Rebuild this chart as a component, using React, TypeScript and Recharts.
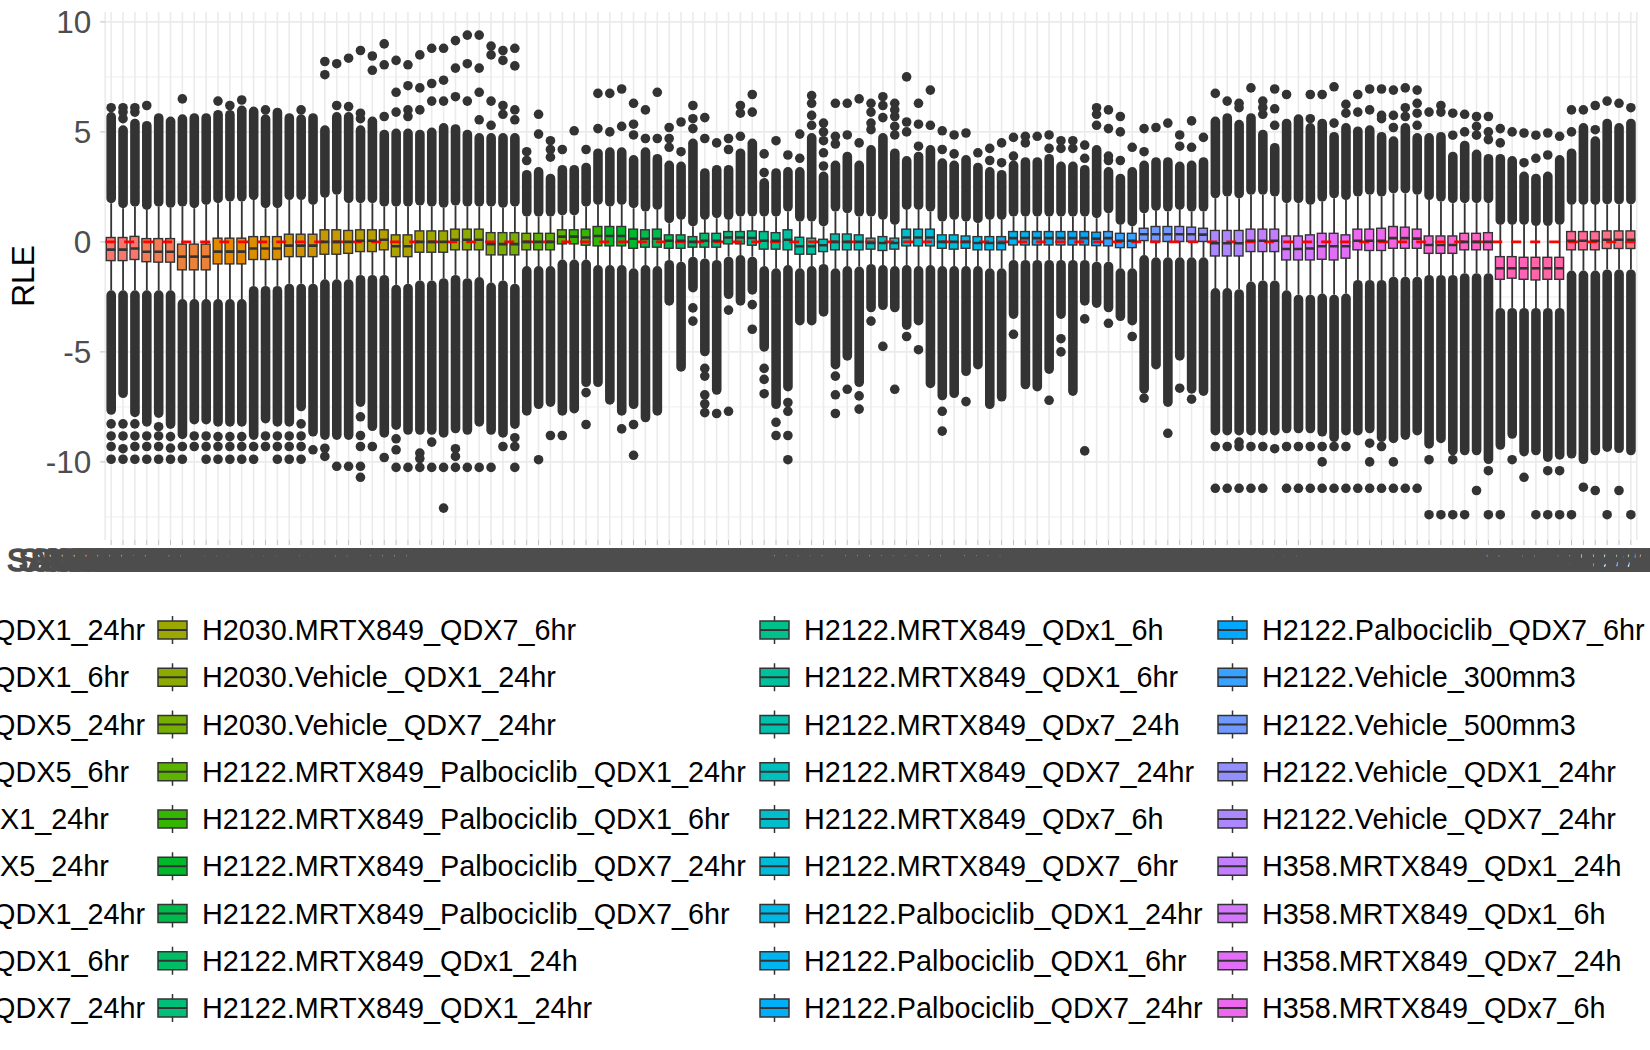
import {
  ComposedChart,
  Bar,
  Scatter,
  XAxis,
  YAxis,
  CartesianGrid,
  ReferenceLine,
} from "recharts";

const FONT = '"Liberation Sans", Arial, Helvetica, sans-serif';

// legend groups (factor levels, alphabetical)
const groups = [
  "H1373.MRTX849_QDX1_24hr",
  "H1373.MRTX849_QDX1_6hr",
  "H1373.MRTX849_QDX5_24hr",
  "H1373.MRTX849_QDX5_6hr",
  "H1373.Vehicle_QDX1_24hr",
  "H1373.Vehicle_QDX5_24hr",
  "H2030.MRTX849_QDX1_24hr",
  "H2030.MRTX849_QDX1_6hr",
  "H2030.MRTX849_QDX7_24hr",
  "H2030.MRTX849_QDX7_6hr",
  "H2030.Vehicle_QDX1_24hr",
  "H2030.Vehicle_QDX7_24hr",
  "H2122.MRTX849_Palbociclib_QDX1_24hr",
  "H2122.MRTX849_Palbociclib_QDX1_6hr",
  "H2122.MRTX849_Palbociclib_QDX7_24hr",
  "H2122.MRTX849_Palbociclib_QDX7_6hr",
  "H2122.MRTX849_QDx1_24h",
  "H2122.MRTX849_QDX1_24hr",
  "H2122.MRTX849_QDx1_6h",
  "H2122.MRTX849_QDX1_6hr",
  "H2122.MRTX849_QDx7_24h",
  "H2122.MRTX849_QDX7_24hr",
  "H2122.MRTX849_QDx7_6h",
  "H2122.MRTX849_QDX7_6hr",
  "H2122.Palbociclib_QDX1_24hr",
  "H2122.Palbociclib_QDX1_6hr",
  "H2122.Palbociclib_QDX7_24hr",
  "H2122.Palbociclib_QDX7_6hr",
  "H2122.Vehicle_300mm3",
  "H2122.Vehicle_500mm3",
  "H2122.Vehicle_QDX1_24hr",
  "H2122.Vehicle_QDX7_24hr",
  "H358.MRTX849_QDx1_24h",
  "H358.MRTX849_QDx1_6h",
  "H358.MRTX849_QDx7_24h",
  "H358.MRTX849_QDx7_6h",
  "H358.Palbociclib_QDx1_24h",
  "H358.Palbociclib_QDx1_6h",
  "H358.Palbociclib_QDx7_24h",
  "H358.Palbociclib_QDx7_6h",
  "H358.Vehicle_QDx1_24h",
  "H358.Vehicle_QDx7_24h",
  "H358.Vehicle_QDx7_6h",
];

// samples per group
const replicates = [
  3, 3, 3, 3, 3, 3, 3, 3, 3, 3, 3, 3, 3, 3, 3, 3, 3, 3, 3, 3, 3, 3,
  3, 3, 3, 3, 3, 3, 3, 3, 3, 3, 3, 3, 3, 3, 3, 3, 3, 3, 3, 3, 3,
];

const sampleIds = [
  "SAMPLE-0001", "SAMPLE-0002", "SAMPLE-0003", "SAMPLE-0004", "SAMPLE-0005", "SAMPLE-0006", "SAMPLE-0007", "SAMPLE-0008", "SAMPLE-0009", "SAMPLE-0010",
  "SAMPLE-0011", "SAMPLE-0012", "SAMPLE-0013", "SAMPLE-0014", "SAMPLE-0015", "SAMPLE-0016", "SAMPLE-0017", "SAMPLE-0018", "SAMPLE-0019", "SAMPLE-0020",
  "SAMPLE-0021", "SAMPLE-0022", "SAMPLE-0023", "SAMPLE-0024", "SAMPLE-0025", "SAMPLE-0026", "SAMPLE-0027", "SAMPLE-0028", "SAMPLE-0029", "SAMPLE-0030",
  "SAMPLE-0031", "SAMPLE-0032", "SAMPLE-0033", "SAMPLE-0034", "SAMPLE-0035", "SAMPLE-0036", "SAMPLE-0037", "SAMPLE-0038", "SAMPLE-0039", "SAMPLE-0040",
  "SAMPLE-0041", "SAMPLE-0042", "SAMPLE-0043", "SAMPLE-0044", "SAMPLE-0045", "SAMPLE-0046", "SAMPLE-0047", "SAMPLE-0048", "SAMPLE-0049", "SAMPLE-0050",
  "SAMPLE-0051", "SAMPLE-0052", "SAMPLE-0053", "SAMPLE-0054", "SAMPLE-0055", "SAMPLE-0056", "SAMPLE-0057", "SAMPLE-0058", "SAMPLE-0059", "SAMPLE-0060",
  "SAMPLE-0061", "SAMPLE-0062", "SAMPLE-0063", "SAMPLE-0064", "SAMPLE-0065", "SAMPLE-0066", "SAMPLE-0067", "SAMPLE-0068", "SAMPLE-0069", "SAMPLE-0070",
  "SAMPLE-0071", "SAMPLE-0072", "SAMPLE-0073", "SAMPLE-0074", "SAMPLE-0075", "SAMPLE-0076", "SAMPLE-0077", "SAMPLE-0078", "SAMPLE-0079", "SAMPLE-0080",
  "SAMPLE-0081", "SAMPLE-0082", "SAMPLE-0083", "SAMPLE-0084", "SAMPLE-0085", "SAMPLE-0086", "SAMPLE-0087", "SAMPLE-0088", "SAMPLE-0089", "SAMPLE-0090",
  "SAMPLE-0091", "SAMPLE-0092", "SAMPLE-0093", "SAMPLE-0094", "SAMPLE-0095", "SAMPLE-0096", "SAMPLE-0097", "SAMPLE-0098", "SAMPLE-0099", "SAMPLE-0100",
  "SAMPLE-0101", "SAMPLE-0102", "SAMPLE-0103", "SAMPLE-0104", "SAMPLE-0105", "SAMPLE-0106", "SAMPLE-0107", "SAMPLE-0108", "SAMPLE-0109", "SAMPLE-0110",
  "SAMPLE-0111", "SAMPLE-0112", "SAMPLE-0113", "SAMPLE-0114", "SAMPLE-0115", "SAMPLE-0116", "SAMPLE-0117", "SAMPLE-0118", "SAMPLE-0119", "SAMPLE-0120",
  "SAMPLE-0121", "SAMPLE-0122", "SAMPLE-0123", "SAMPLE-0124", "SAMPLE-0125", "SAMPLE-0126", "SAMPLE-0127", "SAMPLE-0128", "SAMPLE-0129",
];

// box: lower hinge, median, upper hinge
const q1 = [
  -0.85, -0.85, -0.8, -0.9, -0.92, -0.92, -1.27, -1.27, -1.27, -1.0, -1.0, -1.0,
  -0.8, -0.8, -0.8, -0.67, -0.67, -0.67, -0.56, -0.56, -0.52, -0.44, -0.44, -0.36,
  -0.67, -0.67, -0.47, -0.47, -0.47, -0.36, -0.36, -0.36, -0.59, -0.59, -0.59, -0.36,
  -0.36, -0.36, -0.09, -0.09, -0.15, -0.18, -0.18, -0.18, -0.29, -0.24, -0.24, -0.29,
  -0.29, -0.24, -0.24, -0.24, -0.09, -0.09, -0.15, -0.33, -0.33, -0.36, -0.56, -0.56,
  -0.44, -0.36, -0.36, -0.36, -0.33, -0.39, -0.33, -0.18, -0.18, -0.18, -0.29, -0.33,
  -0.29, -0.36, -0.36, -0.36, -0.14, -0.14, -0.14, -0.14, -0.14, -0.14, -0.14, -0.17,
  -0.18, -0.26, -0.26, 0.06, 0.02, 0.02, 0.02, 0.02, 0.02, -0.64, -0.64, -0.64,
  -0.44, -0.44, -0.44, -0.82, -0.82, -0.82, -0.79, -0.82, -0.74, -0.36, -0.39, -0.39,
  -0.29, -0.29, -0.29, -0.52, -0.52, -0.52, -0.36, -0.36, -0.36, -1.7, -1.65, -1.7,
  -1.73, -1.7, -1.7, -0.36, -0.36, -0.36, -0.3, -0.3, -0.3,
];
const med = [
  -0.35, -0.35, -0.3, -0.45, -0.45, -0.45, -0.67, -0.67, -0.67, -0.44, -0.44, -0.44,
  -0.3, -0.3, -0.3, -0.17, -0.17, -0.17, 0.0, 0.0, 0.0, 0.05, 0.05, 0.1,
  -0.2, -0.2, 0.0, 0.0, 0.0, 0.1, 0.1, 0.1, -0.1, -0.1, -0.1, 0.0,
  0.0, 0.0, 0.24, 0.24, 0.2, 0.27, 0.27, 0.27, 0.14, 0.14, 0.14, 0.05,
  0.05, 0.0, 0.05, 0.05, 0.2, 0.2, 0.18, 0.05, 0.05, 0.1, -0.2, -0.2,
  -0.15, 0.0, 0.0, 0.0, -0.05, -0.05, -0.05, 0.2, 0.2, 0.2, 0.0, 0.0,
  0.0, -0.05, -0.05, -0.05, 0.17, 0.17, 0.17, 0.17, 0.17, 0.17, 0.17, 0.15,
  0.17, 0.05, 0.05, 0.35, 0.35, 0.35, 0.35, 0.35, 0.33, -0.06, -0.06, -0.06,
  0.05, 0.05, 0.05, -0.32, -0.32, -0.3, -0.2, -0.2, -0.2, 0.05, 0.05, 0.05,
  0.17, 0.17, 0.15, -0.14, -0.14, -0.14, 0.0, 0.0, 0.0, -1.2, -1.2, -1.2,
  -1.2, -1.2, -1.2, 0.05, 0.05, 0.05, 0.1, 0.1, 0.1,
];
const q3 = [
  0.2, 0.2, 0.25, 0.15, 0.15, 0.15, -0.1, -0.1, -0.1, 0.17, 0.17, 0.17,
  0.24, 0.24, 0.24, 0.35, 0.35, 0.35, 0.55, 0.55, 0.52, 0.55, 0.55, 0.55,
  0.32, 0.32, 0.5, 0.5, 0.5, 0.58, 0.58, 0.58, 0.42, 0.42, 0.42, 0.39,
  0.39, 0.39, 0.55, 0.55, 0.58, 0.7, 0.7, 0.7, 0.58, 0.55, 0.58, 0.32,
  0.32, 0.24, 0.39, 0.39, 0.47, 0.47, 0.5, 0.47, 0.42, 0.55, 0.21, 0.17,
  0.12, 0.36, 0.36, 0.32, 0.17, 0.24, 0.17, 0.58, 0.58, 0.58, 0.32, 0.32,
  0.27, 0.24, 0.24, 0.24, 0.47, 0.47, 0.47, 0.47, 0.47, 0.47, 0.47, 0.44,
  0.47, 0.39, 0.39, 0.62, 0.7, 0.7, 0.7, 0.67, 0.62, 0.52, 0.52, 0.52,
  0.58, 0.58, 0.58, 0.27, 0.27, 0.32, 0.39, 0.39, 0.32, 0.58, 0.58, 0.62,
  0.7, 0.67, 0.58, 0.27, 0.27, 0.27, 0.39, 0.39, 0.42, -0.67, -0.67, -0.7,
  -0.7, -0.7, -0.7, 0.47, 0.47, 0.47, 0.5, 0.5, 0.5,
];

// whisker ends
const whiskerLow = [
  -2.2, -2.2, -2.2, -2.2, -2.2, -2.2, -2.6, -2.6, -2.6, -2.6, -2.6, -2.6,
  -2.0, -2.0, -2.0, -1.9, -1.9, -1.9, -1.7, -1.7, -1.7, -1.5, -1.5, -1.5,
  -1.95, -1.9, -1.75, -1.75, -1.65, -1.5, -1.65, -1.6, -1.85, -1.75, -1.9, -1.1,
  -1.1, -1.1, -0.8, -0.8, -0.8, -1.05, -1.05, -1.05, -1.2, -1.05, -1.1, -0.82,
  -0.9, -0.67, -0.75, -0.82, -0.67, -0.6, -0.67, -1.1, -1.2, -1.05, -1.2, -1.1,
  -1.0, -1.2, -1.1, -1.12, -1.0, -1.05, -1.1, -1.05, -1.1, -1.05, -1.1, -1.1,
  -1.1, -1.1, -1.2, -1.2, -0.82, -0.82, -0.82, -0.82, -0.82, -0.82, -0.82, -0.9,
  -0.9, -1.2, -1.2, -0.6, -0.7, -0.7, -0.7, -0.7, -0.7, -2.1, -2.1, -2.15,
  -1.8, -1.75, -1.75, -2.2, -2.4, -2.4, -2.35, -2.4, -2.35, -1.73, -1.73, -1.73,
  -1.58, -1.58, -1.58, -1.5, -1.5, -1.5, -1.42, -1.42, -1.42, -3.0, -3.0, -3.0,
  -3.0, -3.0, -3.0, -1.3, -1.3, -1.3, -1.25, -1.25, -1.25,
];
const whiskerHigh = [
  1.76, 1.53, 1.6, 1.45, 1.6, 1.55, 1.6, 1.53, 1.68, 1.76, 1.83, 1.83,
  1.9, 1.53, 1.53, 1.9, 1.9, 1.68, 2.0, 2.14, 1.76, 1.76, 1.76, 1.6,
  1.6, 1.6, 1.65, 1.6, 1.55, 1.65, 1.6, 1.6, 1.6, 1.55, 1.6, 1.15,
  1.15, 1.15, 1.2, 1.2, 1.6, 1.68, 1.6, 1.68, 1.53, 1.38, 1.45, 0.85,
  1.0, 0.7, 1.0, 1.08, 1.0, 1.15, 1.15, 1.15, 1.15, 1.38, 0.92, 0.92,
  0.7, 1.38, 1.3, 1.15, 1.15, 1.0, 0.77, 1.45, 1.45, 1.38, 0.92, 1.0,
  0.92, 0.85, 1.0, 1.0, 1.15, 1.15, 1.15, 1.15, 1.15, 1.15, 1.15, 1.08,
  1.3, 0.77, 0.7, 1.3, 1.41, 1.38, 1.45, 1.38, 1.38, 1.98, 2.06, 1.98,
  2.14, 2.14, 2.06, 1.76, 1.76, 1.68, 1.83, 1.98, 1.9, 2.06, 2.14, 2.06,
  2.2, 2.2, 2.14, 1.9, 1.83, 1.76, 1.76, 1.76, 1.76, 0.77, 0.77, 0.77,
  0.72, 0.72, 0.77, 1.68, 1.68, 1.68, 1.7, 1.7, 1.7,
];

// far end of the solid run of overlapping outliers beyond each whisker
const runLow = [
  -7.86, -7.1, -7.97, -8.4, -8.0, -8.5, -8.97, -8.3, -8.3, -8.4, -8.4, -8.4,
  -9.0, -8.25, -8.4, -8.4, -7.7, -8.85, -9.0, -9.0, -9.0, -7.5, -8.6, -8.9,
  -8.55, -8.77, -8.77, -8.77, -8.9, -8.7, -8.77, -8.4, -8.77, -8.9, -8.5, -7.9,
  -7.6, -7.5, -7.9, -7.8, -6.6, -6.6, -7.4, -7.9, -7.6, -8.2, -7.9, -2.9,
  -5.9, -2.3, -5.2, -6.95, -2.6, -2.9, -2.4, -4.99, -7.6, -6.8, -3.8, -3.8,
  -3.4, -5.8, -5.4, -6.6, -3.2, -3.1, -3.2, -4.0, -3.8, -6.65, -7.2, -7.1,
  -6.1, -5.8, -7.6, -7.26, -3.5, -6.7, -6.8, -6.0, -3.5, -7.0, -2.9, -3.0,
  -3.2, -3.6, -3.8, -6.9, -5.8, -7.5, -5.4, -6.9, -7.0, -8.8, -8.8, -8.8,
  -8.8, -8.8, -8.8, -8.7, -8.7, -8.7, -8.85, -9.1, -8.8, -8.8, -8.7, -9.1,
  -9.15, -9.0, -8.8, -9.4, -9.15, -9.7, -9.7, -9.7, -10.1, -9.45, -8.95, -9.75,
  -9.7, -10.0, -9.9, -9.85, -10.1, -9.7, -9.55, -9.6, -9.7,
];
const runHigh = [
  5.9, 5.3, 5.6, 5.5, 5.85, 5.7, 5.8, 5.85, 5.85, 6.0, 6.0, 6.2,
  6.15, 5.8, 6.1, 5.85, 5.8, 5.85, 5.3, 5.9, 5.9, 5.3, 5.7, 5.1,
  5.15, 5.15, 5.1, 5.2, 5.4, 5.35, 5.1, 4.95, 4.95, 4.95, 4.95, 3.27,
  3.4, 3.1, 3.5, 3.5, 3.6, 4.25, 4.3, 4.3, 3.95, 4.3, 4.0, 3.7,
  3.65, 4.7, 3.35, 3.5, 3.5, 4.25, 4.7, 2.9, 3.35, 3.4, 3.4, 4.95,
  3.2, 3.7, 4.1, 3.7, 4.4, 4.95, 4.25, 3.9, 4.1, 4.4, 3.8, 3.7,
  3.95, 3.6, 3.4, 3.27, 3.7, 3.85, 3.85, 4.0, 3.65, 3.65, 3.5, 4.4,
  3.4, 3.1, 3.4, 3.7, 3.85, 3.85, 3.65, 3.7, 3.85, 5.7, 5.85, 5.55,
  5.85, 5.1, 4.5, 5.6, 5.8, 5.4, 5.6, 5.0, 5.4, 5.25, 5.3, 5.0,
  4.8, 5.4, 4.95, 4.95, 5.0, 4.1, 4.6, 4.2, 4.0, 4.0, 3.9, 3.2,
  3.1, 3.2, 3.95, 4.25, 5.4, 4.8, 5.6, 5.4, 5.6,
];

// separate outlier points per sample
const outlierDots = [
  [6.1, -8.27, -8.82, -9.3, -9.88],
  [5.6, 5.9, 6.1, -8.27, -8.82, -9.4, -9.88],
  [5.9, 6.1, -8.27, -8.82, -9.3, -9.88],
  [6.2, -8.82, -9.3, -9.88],
  [-8.4, -8.82, -9.3, -9.88],
  [-8.85, -9.37, -9.88],
  [6.5, -9.3, -9.88],
  [-8.82, -9.3],
  [-8.82, -9.3, -9.88],
  [6.4, -8.85, -9.3, -9.88],
  [6.2, -8.85, -9.3, -9.88],
  [6.45, -8.85, -9.3, -9.88],
  [-9.3, -9.88],
  [6.0, -8.82, -9.3],
  [-8.82, -9.3, -9.88],
  [-8.82, -9.3, -9.88],
  [6.0, -8.27, -8.82, -9.3, -9.88],
  [-9.45],
  [7.6, 8.2, -9.38, -9.75],
  [6.2, 8.1, -10.2],
  [6.15, 8.35, -10.2],
  [5.6, 5.85, 8.7, -7.95, -8.8, -9.3, -10.2, -10.7],
  [7.8, 8.45, -9.3],
  [5.7, 8.05, 9.0, -9.8],
  [5.9, 6.8, 8.25, -8.95, -9.45, -10.25],
  [5.7, 6.0, 7.1, 8.05, -10.25],
  [6.0, 7.0, 8.5, -9.6, -9.85, -10.25],
  [6.4, 7.2, 8.8, -9.1, -10.25],
  [6.4, 7.35, 8.8, -10.25, -12.1],
  [6.6, 7.9, 9.15, -9.4, -9.75, -10.25],
  [6.4, 8.1, 9.4, -10.25],
  [5.55, 6.8, 7.9, 9.4, -10.25],
  [5.3, 6.4, 8.5, 8.9, -10.25],
  [5.8, 6.2, 8.25, 8.7, -9.3],
  [5.55, 6.0, 8.0, 8.8, -8.9, -9.3, -10.25],
  [3.7, 4.1],
  [4.9, 5.8, -9.9],
  [3.85, 4.2, 4.6, -8.8],
  [4.2, -8.8],
  [5.05],
  [4.2, -6.85, -8.3],
  [5.15, 6.75],
  [5.0, 6.75],
  [5.25, 6.95, -8.5],
  [4.86, 5.35, 6.3, -8.3, -9.7],
  [4.7, 6.0],
  [4.7, 6.8],
  [4.3, 4.7, 5.2],
  [4.1, 5.45],
  [5.15, 5.6, 6.2, -3.0, -3.6],
  [4.7, 5.65, -5.75, -6.1, -6.95, -7.36, -7.76],
  [4.5, -7.8],
  [4.2, 4.7, -3.1, -7.7],
  [4.8, 5.85, 6.2],
  [5.9, 6.7, -2.85, -3.97],
  [3.15, 4.0, -5.75, -6.25, -6.9],
  [4.6, -8.2, -8.8],
  [3.95, -7.3, -7.7, -8.8, -9.9],
  [3.8, 4.9],
  [5.3, 5.75, 6.3, 6.65],
  [3.45, 4.05, 4.6, 5.0, 5.4],
  [4.45, 4.8, 6.3, -6.1, -6.95, -7.8],
  [4.86, 6.3, -6.7],
  [4.5, 6.5, -7.0, -7.6],
  [5.1, 5.4, 5.9, 6.3, -3.6],
  [5.65, 6.2, 6.6, -4.75],
  [4.86, 5.25, 5.7, 6.0, 6.3, -6.7],
  [5.0, 5.45, 7.5, -4.3],
  [4.35, 5.35, 6.3, -4.9],
  [5.3, 6.9],
  [4.2, 5.05, -7.7, -8.6],
  [4.0, 4.86],
  [4.95, -7.26],
  [4.05],
  [3.7, 4.25],
  [3.6, 4.5],
  [3.9, 4.75, -4.2],
  [4.5, 4.8],
  [4.8],
  [4.25, 4.86, -7.2],
  [4.25, 4.6, -4.4, -5.0],
  [4.25, 4.6],
  [3.8, 4.4, -3.5, -9.5],
  [5.3, 5.8, 6.1],
  [3.7, 3.9, 5.15, 6.0, -3.7],
  [3.7, 5.0, 5.7],
  [4.3, -4.3],
  [4.1, 5.15, -7.1],
  [5.2],
  [5.4, -8.7],
  [4.35, 4.86, -6.65],
  [4.3, 5.5, -7.15],
  [4.75],
  [6.75, -9.3, -11.2],
  [6.4, -9.3, -11.2],
  [6.1, 6.3, -9.1, -9.3, -11.2],
  [7.0, -9.3, -11.2],
  [5.8, 6.1, 6.4, -9.3, -11.2],
  [5.3, 6.05, 6.95, -9.4],
  [6.7, -9.3, -11.2],
  [-9.3, -11.2],
  [5.6, 6.7, -9.3, -11.2],
  [6.7, -9.3, -10.0, -11.2],
  [5.4, 7.05, -9.3, -11.2],
  [5.85, 6.25, -9.3, -11.2],
  [5.9, 6.7, -11.2],
  [6.0, 6.95, -9.15, -10.0, -11.2],
  [5.6, 5.75, 6.95, -9.3, -11.2],
  [5.2, 5.75, 6.9, -10.0, -11.2],
  [5.7, 6.1, 7.0, -11.2],
  [5.3, 5.85, 6.3, 6.9, -11.2],
  [5.9, -9.9, -12.4],
  [5.9, 6.2, -12.4],
  [4.85, 5.85, -9.9, -12.4],
  [5.0, 5.8, -12.4],
  [4.85, 5.25, 5.7, -11.3],
  [4.65, 5.0, 5.7, -10.4, -12.4],
  [4.5, 5.15, -12.4],
  [5.0, -9.9],
  [3.6, 4.95, -10.7],
  [3.8, 4.85, -12.4],
  [3.95, 4.95, -10.4, -12.4],
  [4.8, -10.4, -12.4],
  [5.0, 6.0, -12.4],
  [6.0, -11.15],
  [5.1, 6.2, -11.3],
  [6.4, -12.4],
  [6.3, -11.3],
  [6.1, -12.4],
];

const yTicks = [-10, -5, 0, 5, 10];
const yMinor = [-12.5, -7.5, -2.5, 2.5, 7.5];

// ggplot-style hue palette (HCL, c=100, l=65)
function hcl(h: number, c: number, l: number) {
  const hr = (h * Math.PI) / 180;
  const U = c * Math.cos(hr);
  const V = c * Math.sin(hr);
  const Xn = 95.047, Yn = 100, Zn = 108.883;
  const den = Xn + 15 * Yn + 3 * Zn;
  const un = (4 * Xn) / den;
  const vn = (9 * Yn) / den;
  const Y = l > 8 ? Yn * Math.pow((l + 16) / 116, 3) : (Yn * l) / 903.3;
  const up = U / (13 * l) + un;
  const vp = V / (13 * l) + vn;
  const X = (9 * Y * up) / (4 * vp);
  const Z = ((9 * Y) / vp - 15 * Y - X) / 3;
  const x = X / 100, y = Y / 100, z = Z / 100;
  const lin = [
    3.2404542 * x - 1.5371385 * y - 0.4985314 * z,
    -0.969266 * x + 1.8760108 * y + 0.041556 * z,
    0.0556434 * x - 0.2040259 * y + 1.0572252 * z,
  ];
  return (
    "#" +
    lin
      .map((v) => {
        const g = v <= 0.0031308 ? 12.92 * v : 1.055 * Math.pow(v, 1 / 2.4) - 0.055;
        const n = Math.round(Math.min(1, Math.max(0, g)) * 255);
        return n.toString(16).padStart(2, "0");
      })
      .join("")
  );
}

const groupColors = groups.map((_, i) => hcl(15 + (i * 360) / groups.length, 100, 65));

const sampleGroup = replicates.flatMap((n, gi) => Array(n).fill(gi));
const maxDots = Math.max(...outlierDots.map((d) => d.length));
const dotKeys = Array.from({ length: maxDots }, (_, k) => `dot${k}`);

const rows = sampleIds.map((name, i) => {
  const row: any = {
    name,
    group: sampleGroup[i],
    box: [q1[i], q3[i]],
    whisker: [whiskerLow[i], whiskerHigh[i]],
    upper: [whiskerHigh[i], runHigh[i]],
    lower: [runLow[i], whiskerLow[i]],
    med: med[i],
  };
  dotKeys.forEach((k, j) => {
    row[k] = outlierDots[i][j] ?? null;
  });
  return row;
});

const DOT_R = 4.8;

const WhiskerShape = (p: any) => {
  const cx = p.x + p.width / 2;
  const top = Math.min(p.y, p.y + p.height);
  return <line x1={cx} x2={cx} y1={top} y2={top + Math.abs(p.height)} stroke="#333333" strokeWidth={1.8} />;
};

const RunShape = (p: any) => {
  const cx = p.x + p.width / 2;
  const top = Math.min(p.y, p.y + p.height);
  const h = Math.abs(p.height);
  const hh = Math.max(h, DOT_R * 2);
  return (
    <rect
      x={cx - DOT_R}
      y={top + h / 2 - hh / 2}
      width={DOT_R * 2}
      height={hh}
      rx={DOT_R}
      fill="#333333"
    />
  );
};

const BoxShape = (p: any) => {
  const cx = p.x + p.width / 2;
  const top = Math.min(p.y, p.y + p.height);
  return (
    <rect
      x={cx - 4.4}
      y={top}
      width={8.8}
      height={Math.abs(p.height)}
      fill={groupColors[p.payload.group]}
      stroke="#333333"
      strokeWidth={1.4}
    />
  );
};

const MedianShape = (p: any) => {
  if (p.cy == null || !isFinite(p.cy)) return <g />;
  return <line x1={p.cx - 4.4} x2={p.cx + 4.4} y1={p.cy} y2={p.cy} stroke="#333333" strokeWidth={2.6} />;
};

const makeDotShape = (key: string) => (p: any) => {
  if (p.payload == null || p.payload[key] == null || p.cy == null || !isFinite(p.cy)) return <g />;
  return <circle cx={p.cx} cy={p.cy} r={DOT_R} fill="#333333" />;
};

// overlapping sample labels (they merge into one dark band, as in the source)
const SampleTick = (p: any) => (
  <text
    x={p.x}
    y={p.y}
    dy="0.71em"
    textAnchor="middle"
    fontSize={31.5}
    fontFamily={FONT}
    fill="#4D4D4D"
    stroke="#4D4D4D"
    strokeWidth={1.6}
  >
    {p.payload.value}
  </text>
);

const RleLabel = (p: any) => {
  const vb = p.viewBox || { y: 12, height: 528 };
  const cy = vb.y + vb.height / 2;
  return (
    <text
      x={23}
      y={cy}
      transform={`rotate(-90 23 ${cy})`}
      textAnchor="middle"
      dominantBaseline="central"
      fontSize={31.5}
      fontFamily={FONT}
      fill="#000000"
    >
      RLE
    </text>
  );
};

// legend layout
const LEGEND_ROWS = 9;
const legendColX = [-289, 158, 760, 1218, 1668];
const LEGEND_Y0 = 630;
const LEGEND_DY = 47.25;

function GroupLegend() {
  return (
    <svg
      width={1650}
      height={1050}
      style={{ position: "absolute", left: 0, top: 0, pointerEvents: "none" }}
    >
      {groups.map((g, gi) => {
        const x = legendColX[Math.floor(gi / LEGEND_ROWS)];
        const cy = LEGEND_Y0 + (gi % LEGEND_ROWS) * LEGEND_DY;
        return (
          <g key={g}>
            <line x1={x + 14.5} x2={x + 14.5} y1={cy - 14} y2={cy + 14} stroke="#333333" strokeWidth={1.5} />
            <rect x={x} y={cy - 9} width={29} height={18} fill={groupColors[gi]} stroke="#333333" strokeWidth={1.5} />
            <line x1={x} x2={x + 29} y1={cy} y2={cy} stroke="#333333" strokeWidth={2} />
            <text x={x + 44} y={cy + 10} fontSize={28.8} fontFamily={FONT} fill="#000000">
              {g}
            </text>
          </g>
        );
      })}
    </svg>
  );
}

export default function RleBoxplot() {
  return (
    <div
      style={{
        position: "absolute",
        left: 0,
        top: 0,
        width: 1650,
        height: 1050,
        overflow: "hidden",
        background: "#ffffff",
        fontFamily: FONT,
      }}
    >
      <ComposedChart
        width={1650}
        height={585}
        data={rows}
        margin={{ top: 12, right: 13.2, bottom: 0, left: 0 }}
      >
        <CartesianGrid vertical={false} horizontalValues={yMinor} stroke="#EBEBEB" strokeWidth={0.8} />
        <CartesianGrid horizontalValues={yTicks} stroke="#EBEBEB" strokeWidth={1.6} />
        <XAxis
          dataKey="name"
          interval={0}
          tick={<SampleTick />}
          tickSize={5}
          tickMargin={4}
          tickLine={{ stroke: "#bdbdbd" }}
          axisLine={false}
          height={45}
        />
        <XAxis xAxisId="w" dataKey="name" hide height={0} />
        <XAxis xAxisId="u" dataKey="name" hide height={0} />
        <XAxis xAxisId="d" dataKey="name" hide height={0} />
        <XAxis xAxisId="b" dataKey="name" hide height={0} />
        <YAxis
          type="number"
          domain={[-13.55, 10.45]}
          ticks={yTicks}
          allowDataOverflow
          width={105.2}
          tickSize={5}
          tickMargin={9}
          tickLine={{ stroke: "#bdbdbd" }}
          axisLine={false}
          tick={{ fontSize: 31.5, fill: "#4D4D4D", fontFamily: FONT }}
          label={{ content: RleLabel }}
        />
        <Bar xAxisId="w" dataKey="whisker" barSize={2} shape={WhiskerShape} isAnimationActive={false} />
        <Bar xAxisId="u" dataKey="upper" barSize={10} shape={RunShape} isAnimationActive={false} />
        <Bar xAxisId="d" dataKey="lower" barSize={10} shape={RunShape} isAnimationActive={false} />
        <Bar xAxisId="b" dataKey="box" barSize={9} shape={BoxShape} isAnimationActive={false} />
        <Scatter dataKey="med" shape={MedianShape} isAnimationActive={false} />
        {dotKeys.map((k) => (
          <Scatter key={k} dataKey={k} shape={makeDotShape(k)} isAnimationActive={false} />
        ))}
        <ReferenceLine y={0} stroke="#FF0000" strokeDasharray="10 9" strokeWidth={2.6} />
      </ComposedChart>
      <GroupLegend />
    </div>
  );
}
